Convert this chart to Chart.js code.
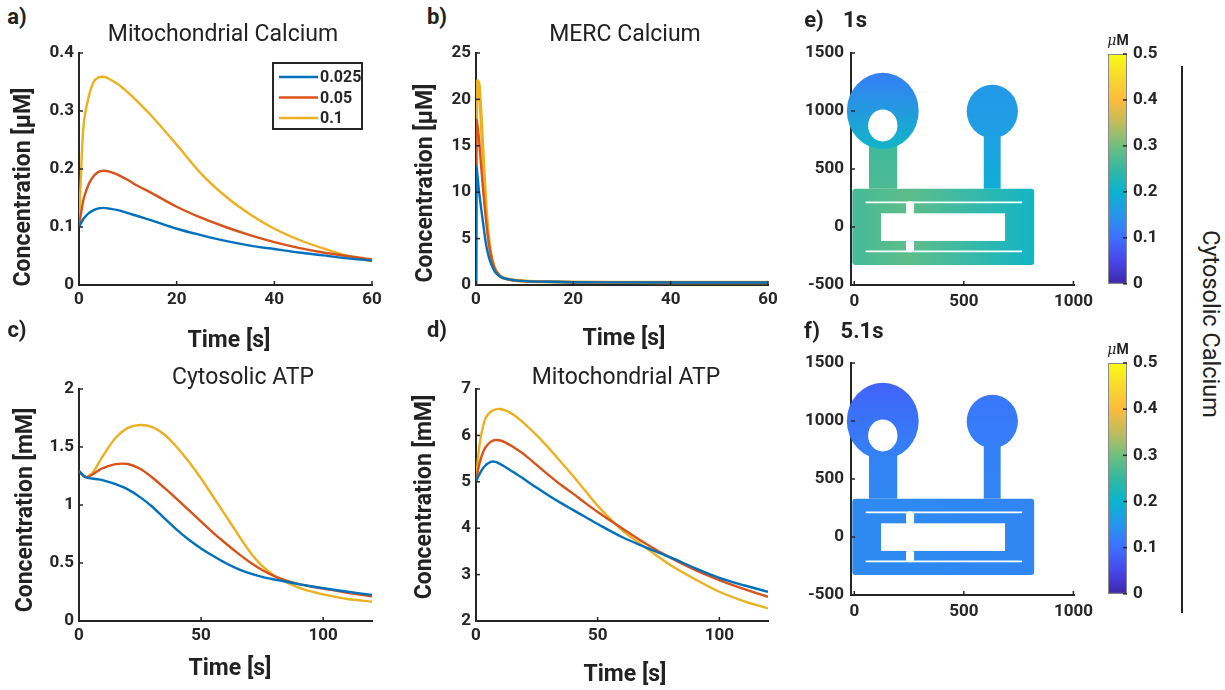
<!DOCTYPE html>
<html><head><meta charset="utf-8"><title>Calcium and ATP dynamics</title>
<script src="https://cdn.jsdelivr.net/npm/chart.js@4.4.1/dist/chart.umd.min.js"></script>
<style>
html,body{margin:0;padding:0;background:#fff}
body{position:relative;width:1225px;height:690px;overflow:hidden;font-family:Roboto,"Noto Sans",sans-serif;color:#222}
canvas{position:absolute}
.t{position:absolute;white-space:nowrap;line-height:1}
</style></head><body>
<script>
// ---------------- data ----------------
const SERIES_LABELS = ['0.025', '0.05', '0.1'];

// a) Mitochondrial calcium [uM] vs time [s]
const tA = [0,0.5,1,2,3,4,5,6,8,10,12,15,20,25,30,35,40,45,50,55,60];
const mitoCa025 = [0.1,0.108,0.115,0.124,0.129,0.132,0.133,0.132,0.129,0.124,0.119,0.111,0.097,0.086,0.076,0.068,0.062,0.056,0.051,0.046,0.042];
const mitoCa05  = [0.1,0.128,0.15,0.174,0.188,0.195,0.197,0.196,0.19,0.181,0.171,0.158,0.135,0.116,0.1,0.086,0.074,0.064,0.056,0.05,0.044];
const mitoCa1   = [0.1,0.21,0.28,0.325,0.35,0.358,0.359,0.356,0.346,0.332,0.316,0.29,0.242,0.192,0.153,0.122,0.097,0.078,0.063,0.05,0.041];

// b) MERC calcium [uM]
const tB = [0,0.1,0.3,0.6,1,1.5,2,2.5,3,3.5,4,5,6,8,10,15,20,30,40,50,60];
const mercCa025 = [0,12.8,11.8,10.2,8.5,6.5,4.6,3.3,2.4,1.8,1.35,0.9,0.68,0.5,0.42,0.35,0.3,0.28,0.27,0.27,0.27];
const mercCa05  = [0,17.8,17.2,15.8,13.2,10,7.3,5,3.4,2.3,1.6,0.95,0.7,0.5,0.42,0.35,0.3,0.28,0.27,0.27,0.27];
const mercCa1   = [0,21.5,22,21.6,18.5,13.5,8.8,5.5,3.5,2.3,1.6,0.95,0.7,0.5,0.42,0.35,0.3,0.28,0.27,0.27,0.27];

// c) Cytosolic ATP [mM]
const tC = [0,1,2,3,4,6,8,10,15,20,25,30,35,40,45,50,55,60,65,70,75,80,85,90,95,100,110,120];
const cytATP025 = [1.293,1.27,1.25,1.237,1.232,1.226,1.221,1.213,1.18,1.135,1.068,0.985,0.885,0.787,0.7,0.626,0.56,0.5,0.45,0.41,0.38,0.358,0.338,0.318,0.3,0.283,0.252,0.225];
const cytATP05  = [1.293,1.27,1.25,1.24,1.245,1.27,1.298,1.32,1.352,1.353,1.312,1.237,1.147,1.053,0.955,0.856,0.76,0.67,0.585,0.507,0.44,0.387,0.348,0.318,0.297,0.28,0.244,0.212];
const cytATP1   = [1.293,1.27,1.25,1.24,1.25,1.29,1.36,1.43,1.58,1.665,1.69,1.672,1.608,1.5,1.372,1.228,1.07,0.91,0.75,0.595,0.475,0.39,0.332,0.288,0.255,0.23,0.19,0.167];

// d) Mitochondrial ATP [mM]
const tD = [0,1,2,3,4,6,8,10,12,15,20,25,30,35,40,45,50,60,70,80,90,100,110,120];
const mitoATP025 = [5.0,5.12,5.22,5.3,5.36,5.43,5.43,5.38,5.32,5.22,5.05,4.87,4.7,4.54,4.39,4.24,4.09,3.81,3.58,3.37,3.14,2.93,2.77,2.63];
const mitoATP05  = [5.0,5.3,5.5,5.65,5.75,5.86,5.9,5.89,5.85,5.76,5.58,5.36,5.14,4.93,4.74,4.54,4.35,4.0,3.66,3.36,3.1,2.88,2.69,2.52];
const mitoATP1   = [5.0,5.6,5.98,6.22,6.38,6.51,6.56,6.57,6.54,6.46,6.25,6.0,5.72,5.42,5.12,4.8,4.48,3.96,3.57,3.2,2.9,2.63,2.43,2.27];

// tick values
const ticksTime60 = [0,20,40,60];
const ticksTime120 = [0,50,100];
const ticksMitoCa = [0,0.1,0.2,0.3,0.4];
const ticksMerc = [0,5,10,15,20,25];
const ticksCytATP = [0,0.5,1,1.5,2];
const ticksMitoATP = [2,3,4,5,6,7];
const ticksGeomX = [0,500,1000];
const ticksGeomY = [-500,0,500,1000,1500];
const ticksColorbar = [0,0.1,0.2,0.3,0.4,0.5];

// e,f) cell geometry (same units as the axes)
const ELLIPSES = [[130,1000,164,330],[630,997,117,230]];   // cx, cy, rx, ry
const STEMS = [[67,196,330,800],[591,668,330,800]];        // x0, x1, y0, y1
const PLATFORM = [-9,821,-328,330];                        // x0, x1, y0, y1
const PLATFORM_STOPS = [-9,250,821];                       // x positions of the colour samples
const HOLE = [130,875,67,137];
const SLOT = [122,688,-120,118];
const SLITS = [[52,766,212],[52,766,-210]];
const GAPS = [[236,273,118,212],[236,273,-210,-120]];

// cytosolic calcium [uM] sampled on each region
const ca1s_circles = [[0.12,0.21],[0.155,0.165]];   // top, bottom
const ca1s_stems = [[0.258,0.27],[0.165,0.19]];     // top, bottom
const ca1s_platform = [0.265,0.285,0.21];           // left, middle, right
const ca51s_circles = [[0.085,0.125],[0.11,0.12]];
const ca51s_stems = [[0.125,0.13],[0.12,0.13]];
const ca51s_platform = [0.135,0.135,0.13];

// ---------------- styles ----------------
const COLORS = ['#0072BD','#D95319','#EDB120'];
const INK = '#262626';
const TICK_FONT = {family:'Roboto', weight:'bold', size:17};
const PARULA = ['#3e26a8','#4747eb','#3e6fff','#2796eb','#08b4d0','#33b8a1','#71bf80','#c0bc5c','#fcbb3d','#f8da2b','#f9fb14'];
const CMAX = 0.5;

function hex(h){return [1,3,5].map(i=>parseInt(h.substr(i,2),16));}
function parula(v){
  const t = Math.max(0,Math.min(1,v/CMAX))*10;
  const i = Math.min(9,Math.floor(t)), f = t-i;
  const a = hex(PARULA[i]), b = hex(PARULA[i+1]);
  return 'rgb('+a.map((c,k)=>Math.round(c+(b[k]-c)*f)).join(',')+')';
}

function pts(xs, ys){return xs.map((x,i)=>({x:x, y:ys[i]}));}
function ds(xs, ys, i, w, mono){
  return {label:SERIES_LABELS[i], data:pts(xs,ys), showLine:true, borderColor:COLORS[i], backgroundColor:COLORS[i],
    borderWidth:w||2.4, pointRadius:0, pointHoverRadius:0,
    cubicInterpolationMode: mono ? 'monotone' : 'default', tension: mono ? 0 : 0.3, fill:false};
}

function makeCanvas(L,T,W,H){
  const c = document.createElement('canvas');
  c.width = W; c.height = H;
  c.style.left = L+'px'; c.style.top = T+'px'; c.style.width = W+'px'; c.style.height = H+'px';
  document.body.appendChild(c);
  return c;
}

const inwardTicks = {id:'inTicks', afterDatasetsDraw(ch){
  const {ctx, chartArea:a} = ch;
  ctx.save(); ctx.strokeStyle = INK; ctx.lineWidth = 1.5;
  ['x','y'].forEach(id=>{
    const s = ch.scales[id];
    if (!s || s.options.display === false) return;
    s.ticks.forEach(t=>{
      const p = s.getPixelForValue(t.value);
      ctx.beginPath();
      if (id==='x'){ctx.moveTo(p,a.bottom); ctx.lineTo(p,a.bottom-4);}
      else if (s.position==='left'){ctx.moveTo(a.left,p); ctx.lineTo(a.left+4,p);}
      else {ctx.moveTo(a.right,p); ctx.lineTo(a.right-4,p);}
      ctx.stroke();
    });
  });
  ctx.restore();
}};

function panel(o){
  const {L,T,W,H,area,x,y} = o;
  const c = makeCanvas(L,T,W,H);
  const leftW = y.pos==='left' ? area[0]-L : 0;
  const rightW = y.pos==='right' ? L+W-area[2] : 0;
  const xShow = x.show !== false;
  const bottomH = xShow ? T+H-area[3] : 0;
  const mk = (axis, s, size, pad, show, pos)=>({
    type:'linear', min:s.min, max:s.max, position:pos, display:show,
    afterBuildTicks: sc=>{ sc.ticks = s.ticks.map(v=>({value:v})); },
    afterFit: sc=>{ if (axis==='x') sc.height = size; else sc.width = size; },
    ticks:{font:TICK_FONT, color:INK, padding:pad, maxRotation:0, minRotation:0, autoSkip:false, callback:v=>String(v)},
    grid:{display:true, drawOnChartArea:false, drawTicks:false},
    border:{display:s.border!==false, color:INK, width:2}
  });
  return new Chart(c, {type:'scatter', data:{datasets:o.datasets||[]}, options:{
    responsive:false, maintainAspectRatio:false, animation:false, events:[],
    layout:{padding:{left:area[0]-L-leftW, right:L+W-area[2]-rightW, top:area[1]-T, bottom:T+H-area[3]-bottomH}},
    plugins:{legend:{display:false}, tooltip:{enabled:false}, title:{display:false}},
    scales:{
      x: mk('x', x, bottomH, x.pad||6, xShow, 'bottom'),
      y: mk('y', y, y.pos==='left'?leftW:rightW, y.pad||5, true, y.pos)
    }
  }, plugins:[inwardTicks].concat(o.plugins||[])});
}

const legendPlugin = {id:'boxLegend', afterDatasetsDraw(ch){
  const {ctx, chartArea:a} = ch;
  const w = 89, h = 66, x0 = a.right-10-w, y0 = a.top+10;
  ctx.save();
  ctx.fillStyle = '#fff'; ctx.fillRect(x0,y0,w,h);
  ctx.strokeStyle = INK; ctx.lineWidth = 2; ctx.strokeRect(x0,y0,w,h);
  ch.data.datasets.forEach((d,i)=>{
    const yy = y0+14+i*20.5;
    ctx.strokeStyle = d.borderColor; ctx.lineWidth = 2.5;
    ctx.beginPath(); ctx.moveTo(x0+6,yy); ctx.lineTo(x0+45,yy); ctx.stroke();
    ctx.fillStyle = INK; ctx.font = 'bold 16px Roboto'; ctx.textBaseline = 'middle'; ctx.textAlign = 'left';
    ctx.fillText(d.label, x0+47, yy+1);
  });
  ctx.restore();
}};

function fieldPlugin(circ, stems, plat){ return {id:'field', beforeDatasetsDraw(ch){
  const {ctx, scales:{x,y}} = ch;
  const X = v=>x.getPixelForValue(v), Y = v=>y.getPixelForValue(v);
  ctx.save();
  // platform
  const px0 = X(PLATFORM_STOPS[0]), px1 = X(PLATFORM_STOPS[PLATFORM_STOPS.length-1]);
  let g = ctx.createLinearGradient(px0,0,px1,0);
  PLATFORM_STOPS.forEach((s,i)=>g.addColorStop((X(s)-px0)/(px1-px0), parula(plat[i])));
  ctx.fillStyle = g;
  ctx.beginPath();
  ctx.roundRect(X(PLATFORM[0]),Y(PLATFORM[3]),X(PLATFORM[1])-X(PLATFORM[0]),Y(PLATFORM[2])-Y(PLATFORM[3]),3);
  ctx.fill();
  // stems
  STEMS.forEach((s,i)=>{
    g = ctx.createLinearGradient(0,Y(s[3]),0,Y(s[2]));
    g.addColorStop(0,parula(stems[i][0])); g.addColorStop(1,parula(stems[i][1]));
    ctx.fillStyle = g;
    ctx.fillRect(X(s[0]),Y(s[3]),X(s[1])-X(s[0]),Y(s[2])-Y(s[3]));
  });
  // circles
  ELLIPSES.forEach((e,i)=>{
    g = ctx.createLinearGradient(0,Y(e[1]+e[3]),0,Y(e[1]-e[3]));
    g.addColorStop(0,parula(circ[i][0])); g.addColorStop(1,parula(circ[i][1]));
    ctx.fillStyle = g;
    ctx.beginPath();
    ctx.ellipse(X(e[0]),Y(e[1]),X(e[0]+e[2])-X(e[0]),Y(e[1])-Y(e[1]+e[3]),0,0,Math.PI*2);
    ctx.fill();
  });
  // cut-outs
  ctx.fillStyle = '#fff';
  ctx.beginPath();
  ctx.ellipse(X(HOLE[0]),Y(HOLE[1]),X(HOLE[0]+HOLE[2])-X(HOLE[0]),Y(HOLE[1])-Y(HOLE[1]+HOLE[3]),0,0,Math.PI*2);
  ctx.fill();
  ctx.fillRect(X(SLOT[0]),Y(SLOT[3]),X(SLOT[1])-X(SLOT[0]),Y(SLOT[2])-Y(SLOT[3]));
  GAPS.forEach(r=>{
    ctx.beginPath();
    ctx.roundRect(X(r[0]),Y(r[3])-1,X(r[1])-X(r[0]),Y(r[2])-Y(r[3])+2,3);
    ctx.fill();
  });
  ctx.strokeStyle = '#fff'; ctx.lineWidth = 1.8;
  SLITS.forEach(s=>{ctx.beginPath(); ctx.moveTo(X(s[0]),Y(s[2])); ctx.lineTo(X(s[1]),Y(s[2])); ctx.stroke();});
  ctx.restore();
}};}

const colorbarPlugin = {id:'cbar', beforeDatasetsDraw(ch){
  const {ctx, chartArea:a, scales:{y}} = ch;
  const g = ctx.createLinearGradient(0,y.getPixelForValue(0),0,y.getPixelForValue(CMAX));
  PARULA.forEach((c,i)=>g.addColorStop(i/(PARULA.length-1), c));
  ctx.save();
  ctx.fillStyle = g; ctx.fillRect(a.left,a.top,a.width,a.height);
  ctx.strokeStyle = '#8a8a8a'; ctx.lineWidth = 1;
  ctx.strokeRect(a.left+0.5,a.top+0.5,a.width-1,a.height-1);
  ctx.restore();
}};

// ---------------- panels ----------------
panel({L:0,T:30,W:400,H:300, area:[79,53,372,285],
  x:{min:0,max:60,ticks:ticksTime60,pad:5}, y:{min:0,max:0.4,ticks:ticksMitoCa,pos:'left',pad:5},
  datasets:[ds(tA,mitoCa025,0),ds(tA,mitoCa05,1),ds(tA,mitoCa1,2)], plugins:[legendPlugin]});

panel({L:400,T:30,W:400,H:300, area:[476,53,768,285],
  x:{min:0,max:60,ticks:ticksTime60,pad:5}, y:{min:0,max:25,ticks:ticksMerc,pos:'left',pad:5},
  datasets:[ds(tB,mercCa025,0,2.4,true),ds(tB,mercCa05,1,2.4,true),ds(tB,mercCa1,2,3.4,true)]});

panel({L:0,T:360,W:400,H:300, area:[79,389,372,621],
  x:{min:0,max:120,ticks:ticksTime120,pad:5}, y:{min:0,max:2,ticks:ticksCytATP,pos:'left',pad:5},
  datasets:[ds(tC,cytATP025,0),ds(tC,cytATP05,1),ds(tC,cytATP1,2)]});

panel({L:400,T:360,W:400,H:300, area:[476,389,768,621],
  x:{min:0,max:120,ticks:ticksTime120,pad:5}, y:{min:2,max:7,ticks:ticksMitoATP,pos:'left',pad:5},
  datasets:[ds(tD,mitoATP025,0),ds(tD,mitoATP05,1),ds(tD,mitoATP1,2)]});

panel({L:790,T:30,W:310,H:300, area:[851,53,1079,285],
  x:{min:-15,max:1005,ticks:ticksGeomX,pad:7}, y:{min:-500,max:1500,ticks:ticksGeomY,pos:'left',pad:7},
  plugins:[fieldPlugin(ca1s_circles,ca1s_stems,ca1s_platform)]});

panel({L:790,T:340,W:310,H:300, area:[851,363,1079,595],
  x:{min:-15,max:1005,ticks:ticksGeomX,pad:7}, y:{min:-500,max:1500,ticks:ticksGeomY,pos:'left',pad:7},
  plugins:[fieldPlugin(ca51s_circles,ca51s_stems,ca51s_platform)]});

panel({L:1100,T:30,W:80,H:270, area:[1108,54,1127,285],
  x:{min:0,max:1,ticks:[],show:false}, y:{min:0,max:CMAX,ticks:ticksColorbar,pos:'right',pad:6,border:false},
  plugins:[colorbarPlugin]});

panel({L:1100,T:340,W:80,H:270, area:[1108,363,1127,595],
  x:{min:0,max:1,ticks:[],show:false}, y:{min:0,max:CMAX,ticks:ticksColorbar,pos:'right',pad:6,border:false},
  plugins:[colorbarPlugin]});

// ---------------- text ----------------
function txt(s, cx, cy, css, rot, html){
  const d = document.createElement('div');
  d.className = 't';
  if (html) d.innerHTML = s; else d.textContent = s;
  d.style.cssText += css;
  d.style.left = cx+'px'; d.style.top = cy+'px';
  d.style.transform = 'translate(-50%,-50%)'+(rot?' rotate('+rot+'deg)':'');
  document.body.appendChild(d);
}
const PL = 'font-weight:700;font-size:22px;';
const AX = 'font-weight:700;font-size:23px;';
const TT = 'font-weight:400;font-size:23px;';
txt('a)',17,17,PL); txt('b)',437,17,PL); txt('c)',17,330,PL); txt('d)',437,330,PL);
txt('e)',814,20,PL); txt('1s',855,20,PL); txt('f)',812,331,PL); txt('5.1s',862,331,PL);
txt('Mitochondrial Calcium',223,33,TT); txt('MERC Calcium',625,33,TT);
txt('Cytosolic ATP',243,376,TT); txt('Mitochondrial ATP',626,376,TT);
txt('Concentration [μM]',22,187,AX,-90); txt('Concentration [μM]',424,183,AX,-90);
txt('Concentration [mM]',24,510,AX,-90); txt('Concentration [mM]',423,497,AX,-90);
txt('Time [s]',229,339,AX); txt('Time [s]',624,337,AX);
txt('Time [s]',230,667,AX); txt('Time [s]',625,673,AX);
txt('<i style="font-family:\'DejaVu Serif\',serif;font-weight:400">μ</i>M',1118,40,'font-weight:700;font-size:14px;',0,true);
txt('<i style="font-family:\'DejaVu Serif\',serif;font-weight:400">μ</i>M',1118,349,'font-weight:700;font-size:14px;',0,true);
txt('Cytosolic Calcium',1210,324,'font-weight:400;font-size:23.5px;',90);
const vl = document.createElement('div');
vl.style.cssText = 'position:absolute;left:1181px;top:66px;width:2px;height:547px;background:#222';
document.body.appendChild(vl);
</script>
</body></html>
